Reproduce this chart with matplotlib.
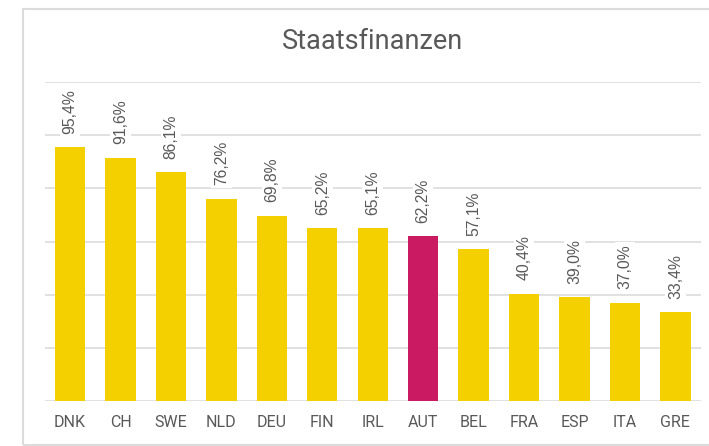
import matplotlib.pyplot as plt
from matplotlib.patches import Rectangle

countries = ["DNK", "CH", "SWE", "NLD", "DEU", "FIN", "IRL", "AUT", "BEL", "FRA", "ESP", "ITA", "GRE"]
values = [95.4, 91.6, 86.1, 76.2, 69.8, 65.2, 65.1, 62.2, 57.1, 40.4, 39.0, 37.0, 33.4]
highlight = "AUT"

yellow = "#F5D000"
magenta = "#CA1A62"
text_grey = "#595959"
grid_grey = "#DCDCDC"

plt.rcParams['font.family'] = ['Liberation Sans', 'DejaVu Sans']

fig = plt.figure(figsize=(7.09, 4.46), dpi=100)
ax = fig.add_axes([0.0632, 0.1009, 0.925, 0.715])

colors = [magenta if c == highlight else yellow for c in countries]
x = range(len(countries))
bars = ax.bar(x, values, width=0.6, color=colors, zorder=2)

for b, v in zip(bars, values):
    ax.annotate(f"{v:.1f}%".replace(".", ","),
                (b.get_x() + b.get_width() / 2, b.get_height()),
                xytext=(0, 9.5), textcoords="offset points",
                rotation=90, ha="center", va="bottom",
                fontsize=11.3, color=text_grey, zorder=3,
                bbox=dict(facecolor="white", edgecolor="none", pad=2))

ax.set_xlim(-0.5, len(countries) - 0.5)
ax.set_ylim(0, 120)
ax.set_yticks(range(0, 121, 20))
ax.yaxis.grid(True, color=grid_grey, linewidth=1.2, zorder=0)
ax.tick_params(axis="y", left=False, labelleft=False)
ax.set_xticks(list(x))
ax.set_xticklabels(countries, family=["Roboto", "DejaVu Sans"])
ax.tick_params(axis="x", length=0, pad=10, labelsize=11.5, labelcolor=text_grey)
for s in ax.spines.values():
    s.set_visible(False)

fig.text(0.5254, 0.906, "Staatsfinanzen", ha="center", va="center",
         fontsize=19.5, color=text_grey, family=["Roboto", "DejaVu Sans"])

# light grey frame round the chart
fig.patches.append(Rectangle((23 / 709, 1 / 446), 1.0, 436 / 446,
                             transform=fig.transFigure, fill=False,
                             edgecolor=grid_grey, linewidth=1.5))

fig.savefig("out.png", dpi=100)
